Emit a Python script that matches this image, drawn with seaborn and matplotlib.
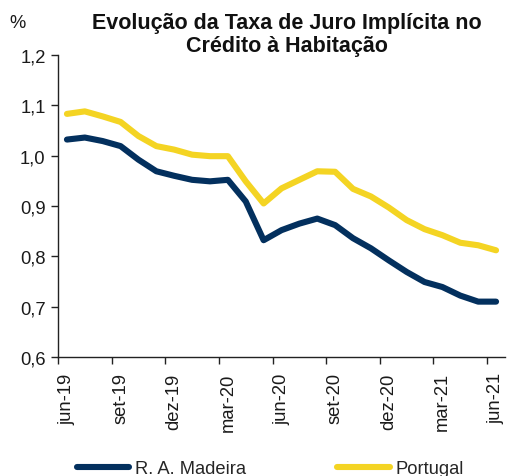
import numpy as np
import pandas as pd
import matplotlib
matplotlib.use("Agg")
import matplotlib.pyplot as plt
from matplotlib.lines import Line2D
import seaborn as sns

months = ["jun-19", "jul-19", "ago-19", "set-19", "out-19", "nov-19", "dez-19",
          "jan-20", "fev-20", "mar-20", "abr-20", "mai-20", "jun-20", "jul-20",
          "ago-20", "set-20", "out-20", "nov-20", "dez-20", "jan-21", "fev-21",
          "mar-21", "abr-21", "mai-21", "jun-21"]
madeira = [1.032, 1.036, 1.029, 1.019, 0.992, 0.969, 0.960, 0.952, 0.949, 0.952,
           0.909, 0.832, 0.852, 0.865, 0.875, 0.862, 0.836, 0.816, 0.792, 0.769,
           0.749, 0.739, 0.722, 0.710, 0.710]
portugal = [1.083, 1.088, 1.078, 1.067, 1.039, 1.019, 1.012, 1.002, 0.999, 0.999,
            0.949, 0.905, 0.935, 0.952, 0.969, 0.968, 0.934, 0.919, 0.897, 0.872,
            0.854, 0.842, 0.827, 0.822, 0.812]
series_names = ["R. A. Madeira", "Portugal"]
yticks = [0.6, 0.7, 0.8, 0.9, 1.0, 1.1, 1.2]
label_months = months[::3]

sns.set_theme(style="white")
plt.rcParams["font.family"] = ["Liberation Sans", "DejaVu Sans"]

df = pd.DataFrame({
    "idx": list(range(len(months))) * 2,
    "value": madeira + portugal,
    "serie": [series_names[0]] * len(months) + [series_names[1]] * len(months),
})

fig = plt.figure(figsize=(5.07, 4.77), dpi=100)
ax = fig.add_axes([58 / 507, 1 - 358 / 477, (505 - 58) / 507, (358 - 56) / 477])

palette = {series_names[0]: "#03305E", series_names[1]: "#F4D423"}
sns.lineplot(data=df, x="idx", y="value", hue="serie", palette=palette,
             linewidth=4.4, ax=ax, legend=False, solid_capstyle="round")

fs = 13.2
ax.set_xlim(-0.5, len(months) - 0.5)
ax.set_ylim(0.6, 1.2)
ax.set_yticks(yticks)
ax.set_yticklabels([f"{v:.1f}".replace(".", ",") for v in yticks], fontsize=fs, color="#1a1a1a")
ax.set_xticks([i - 0.5 for i in range(0, len(months), 3)])
ax.set_xticklabels([])
ax.set_xticks(list(range(0, len(months), 3)), minor=True)
ax.set_xticklabels(label_months, minor=True, rotation=90, fontsize=fs, color="#1a1a1a")
ax.tick_params(axis="x", which="major", direction="out", length=5, width=1, color="#222222", bottom=True)
ax.tick_params(axis="x", which="minor", length=0, pad=11, bottom=True)
ax.tick_params(axis="y", direction="out", length=5, width=1, color="#222222", left=True, pad=4)
ax.set_xlabel("")
ax.set_ylabel("")
for s in ["top", "right"]:
    ax.spines[s].set_visible(False)
for s in ["left", "bottom"]:
    ax.spines[s].set_color("#222222")
    ax.spines[s].set_linewidth(1)
ax.grid(False)

fig.text(287 / 507, 1 - 35 / 477, "Evolução da Taxa de Juro Implícita no\nCrédito à Habitação",
         ha="center", va="center", fontsize=15.5, fontweight="bold", linespacing=1.08, color="#111111")
fig.text(9 / 507, 1 - 24 / 477, "%", ha="left", va="center", fontsize=fs, color="#1a1a1a")

handles = [Line2D([0], [0], color=palette[n], lw=4.4, solid_capstyle="round") for n in series_names]
fig.legend(handles, series_names, loc="center left", bbox_to_anchor=(77 / 507, 1 - 470 / 477),
           ncol=2, frameon=False, fontsize=fs, handlelength=2.85, columnspacing=5.0,
           handletextpad=0.3, borderaxespad=0, borderpad=0)

fig.savefig("out.png", dpi=100)
